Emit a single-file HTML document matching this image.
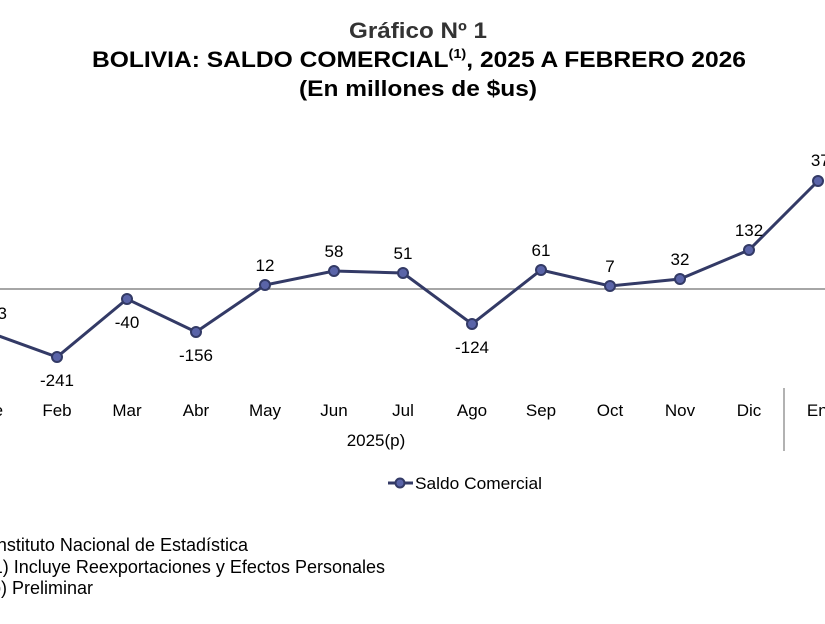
<!DOCTYPE html>
<html><head><meta charset="utf-8"><style>
body{margin:0;width:825px;height:619px;background:#fff;overflow:hidden}
svg{font-family:"Liberation Sans",Arial,sans-serif}
</style></head><body>
<svg width="825" height="619" viewBox="0 0 825 619">
<g font-weight="bold" fill="#000" text-anchor="middle">
<text x="418" y="38" font-size="22" fill="#333" textLength="138" lengthAdjust="spacingAndGlyphs">Gráfico Nº 1</text>
<text x="419" y="67" font-size="22" textLength="654" lengthAdjust="spacingAndGlyphs">BOLIVIA: SALDO COMERCIAL<tspan font-size="13" dy="-9">(1)</tspan><tspan dy="9">, 2025 A FEBRERO 2026</tspan></text>
<text x="418" y="96" font-size="22" textLength="238" lengthAdjust="spacingAndGlyphs">(En millones de $us)</text>
</g>
<line x1="0" y1="289" x2="825" y2="289" stroke="#888" stroke-width="1.5"/>
<line x1="784" y1="388" x2="784" y2="451" stroke="#999" stroke-width="1.5"/>
<polyline fill="none" stroke="#333a66" stroke-width="3" points="-12,332 57,357 127,299 196,332 265,285 334,271 403,273 472,324 541,270 610,286 680,279 749,250 818,181"/>
<g fill="#5a64a8" stroke="#333a66" stroke-width="2">
<circle cx="57" cy="357" r="5"/><circle cx="127" cy="299" r="5"/><circle cx="196" cy="332" r="5"/><circle cx="265" cy="285" r="5"/><circle cx="334" cy="271" r="5"/><circle cx="403" cy="273" r="5"/><circle cx="472" cy="324" r="5"/><circle cx="541" cy="270" r="5"/><circle cx="610" cy="286" r="5"/><circle cx="680" cy="279" r="5"/><circle cx="749" cy="250" r="5"/><circle cx="818" cy="181" r="5"/>
</g>
<g font-size="17" fill="#000" text-anchor="middle">
<text x="7" y="319" text-anchor="end">-83</text>
<text x="57" y="386">-241</text>
<text x="127" y="328">-40</text>
<text x="196" y="361">-156</text>
<text x="265" y="271">12</text>
<text x="334" y="257">58</text>
<text x="403" y="259">51</text>
<text x="472" y="353">-124</text>
<text x="541" y="256">61</text>
<text x="610" y="272">7</text>
<text x="680" y="265">32</text>
<text x="749" y="236">132</text>
<text x="825" y="166">375</text>
<text x="-12" y="416">Ene</text>
<text x="57" y="416">Feb</text><text x="127" y="416">Mar</text><text x="196" y="416">Abr</text><text x="265" y="416">May</text><text x="334" y="416">Jun</text><text x="403" y="416">Jul</text><text x="472" y="416">Ago</text><text x="541" y="416">Sep</text><text x="610" y="416">Oct</text><text x="680" y="416">Nov</text><text x="749" y="416">Dic</text><text x="822" y="416">Ene</text>
<text x="376" y="446">2025(p)</text>
</g>
<line x1="388" y1="483" x2="413" y2="483" stroke="#333a66" stroke-width="3"/>
<circle cx="400" cy="483" r="4.5" fill="#5a64a8" stroke="#333a66" stroke-width="2"/>
<text x="415" y="489" font-size="17" textLength="127" lengthAdjust="spacingAndGlyphs">Saldo Comercial</text>
<g font-size="18" fill="#000">
<text x="248" y="551" text-anchor="end">Instituto Nacional de Estadística</text>
<text x="385" y="573" text-anchor="end">(1) Incluye Reexportaciones y Efectos Personales</text>
<text x="93" y="594" text-anchor="end">(p) Preliminar</text>
</g>
</svg>
</body></html>
